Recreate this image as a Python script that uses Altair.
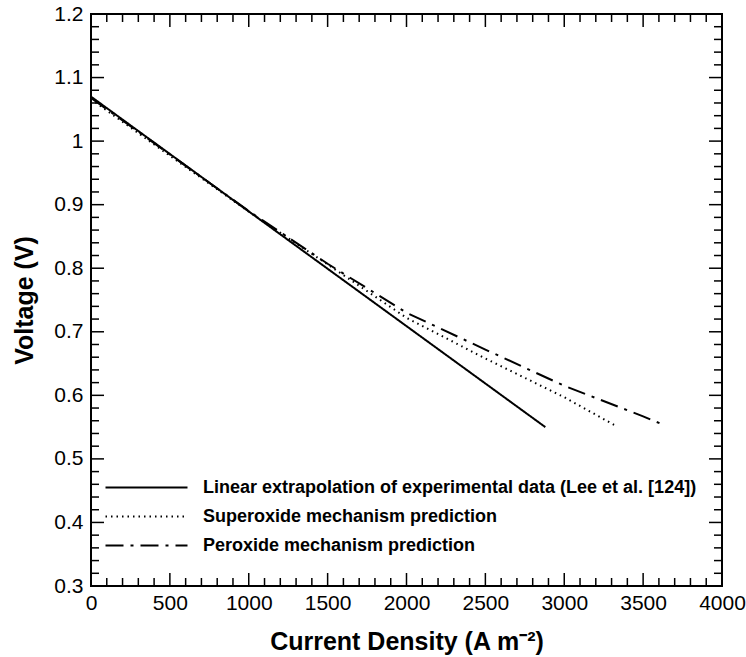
import altair as alt
import pandas as pd

# ---- data ----
series_names = [
    "Linear extrapolation of experimental data (Lee et al. [124])",
    "Superoxide mechanism prediction",
    "Peroxide mechanism prediction",
]

linear_I = [0, 2880]
linear_V = [1.070, 0.550]

super_I = [0, 500, 1000, 1500, 2000, 2500, 3000, 3334]
super_V = [1.066, 0.977, 0.889, 0.806, 0.722, 0.658, 0.597, 0.551]

perox_I = [0, 500, 1000, 1500, 2000, 2500, 3000, 3500, 3615]
perox_V = [1.068, 0.979, 0.890, 0.807, 0.730, 0.672, 0.615, 0.567, 0.555]

x_major = [0, 500, 1000, 1500, 2000, 2500, 3000, 3500, 4000]
y_major = [0.3, 0.4, 0.5, 0.6, 0.7, 0.8, 0.9, 1.0, 1.1, 1.2]
x_minor = [v for v in range(0, 4001, 100) if v % 500 != 0]
y_minor = [round(0.3 + 0.02 * k, 2) for k in range(46) if k % 5 != 0]

# ---- layout ----
W, H = 631, 572
MAJ, MIN = 13, 8
FONT = "Liberation Sans"

rows = []
for name, xs, ys in zip(series_names, [linear_I, super_I, perox_I], [linear_V, super_V, perox_V]):
    for i, (a, b) in enumerate(zip(xs, ys)):
        rows.append({"I": a, "V": b, "series": name, "order": i})
df = pd.DataFrame(rows)

xscale = alt.Scale(domain=[0, 4000], nice=False, zero=False)
yscale = alt.Scale(domain=[0.3, 1.2], nice=False, zero=False)

x_axis = alt.Axis(title="Current Density (A m\u207B\u00B2)", values=x_major, format="d",
                  grid=False, ticks=False, tickSize=0, domain=False,
                  labelFlush=False, labelOverlap=False,
                  labelFontSize=21, labelFont=FONT, labelColor="black", labelPadding=6,
                  titleFontSize=25, titleFont=FONT, titleFontWeight="bold",
                  titleColor="black", titlePadding=16)
y_axis = alt.Axis(title="Voltage (V)", values=y_major,
                  labelExpr="datum.value == 1 ? '1' : format(datum.value, '.1f')",
                  grid=False, ticks=False, tickSize=0, domain=False,
                  labelFlush=False, labelOverlap=False,
                  labelFontSize=21, labelFont=FONT, labelColor="black", labelPadding=8,
                  titleFontSize=25, titleFont=FONT, titleFontWeight="bold",
                  titleColor="black", titlePadding=16)

lines = alt.Chart(df).mark_line(strokeWidth=2, color="black").encode(
    x=alt.X("I:Q", scale=xscale, axis=x_axis),
    y=alt.Y("V:Q", scale=yscale, axis=y_axis),
    strokeDash=alt.StrokeDash(
        "series:N",
        scale=alt.Scale(domain=series_names, range=[[1, 0], [1.5, 4], [18, 7, 3, 7]]),
        legend=alt.Legend(title=None, orient="none", legendX=45, legendY=463,
                          symbolType="M-4.5,0L4.5,0", symbolSize=332, symbolStrokeWidth=2,
                          symbolStrokeColor="black", labelFontSize=18, labelFont=FONT,
                          labelFontWeight="bold", labelColor="black", labelLimit=0,
                          labelOffset=46, rowPadding=9, padding=0),
    ),
    order="order:Q",
)

def hticks(vals, length):
    d = pd.DataFrame({"I": vals})
    bottom = alt.Chart(d).mark_rule(color="black", strokeWidth=1.5).encode(
        x=alt.X("I:Q", scale=xscale, axis=x_axis), y=alt.value(H), y2=alt.value(H - length))
    top = alt.Chart(d).mark_rule(color="black", strokeWidth=1.5).encode(
        x=alt.X("I:Q", scale=xscale, axis=x_axis), y=alt.value(0), y2=alt.value(length))
    return [bottom, top]

def vticks(vals, length):
    d = pd.DataFrame({"V": vals})
    left = alt.Chart(d).mark_rule(color="black", strokeWidth=1.5).encode(
        y=alt.Y("V:Q", scale=yscale, axis=y_axis), x=alt.value(0), x2=alt.value(length))
    right = alt.Chart(d).mark_rule(color="black", strokeWidth=1.5).encode(
        y=alt.Y("V:Q", scale=yscale, axis=y_axis), x=alt.value(W), x2=alt.value(W - length))
    return [left, right]

layers = [lines] + hticks(x_major, MAJ) + hticks(x_minor, MIN) + vticks(y_major, MAJ) + vticks(y_minor, MIN)

chart = alt.layer(*layers).properties(
    width=W, height=H,
    background="white",
    autosize=alt.AutoSizeParams(type="none"),
    padding={"left": 91, "top": 14, "right": 24, "bottom": 71},
).configure_view(stroke="black", strokeWidth=2)

chart.save("out.html", embed_options={"renderer": "svg", "actions": False})
